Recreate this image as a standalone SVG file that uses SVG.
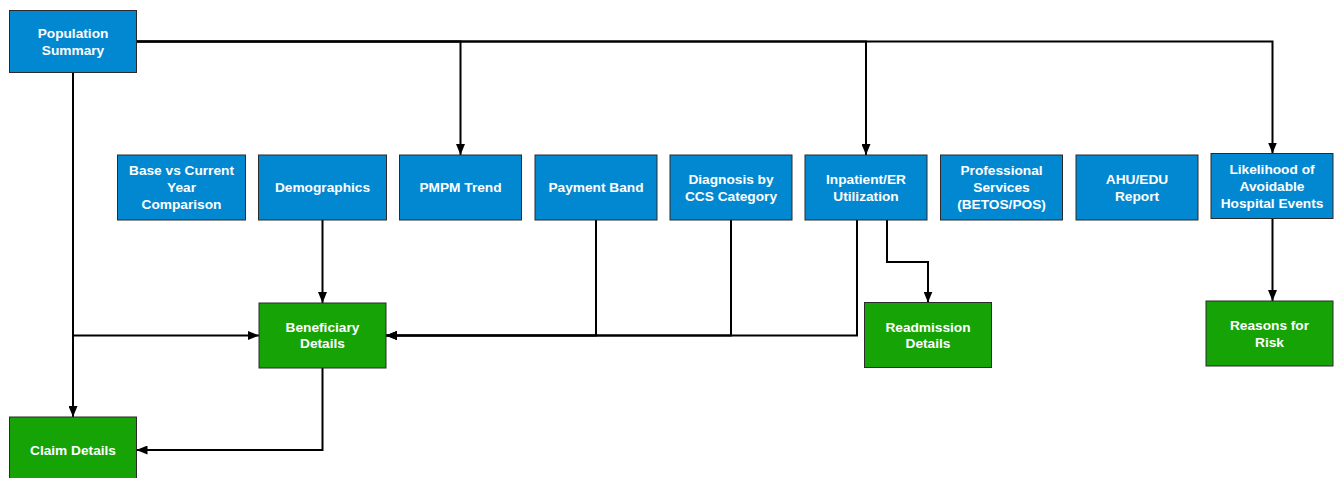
<svg xmlns="http://www.w3.org/2000/svg" width="1334" height="478" viewBox="0 0 1334 478">
<defs>
<style>
.b{fill:#0288D1;stroke:#2b2b2b;stroke-width:1}
.g{fill:#16A306;stroke:#2b2b2b;stroke-width:1}
.t{fill:#fff;font-family:"Liberation Sans",Arial,sans-serif;font-weight:bold;font-size:13.7px;text-anchor:middle}
.c{fill:none;stroke:#000;stroke-width:2;marker-end:url(#ah)}
</style>
<marker id="ah" markerUnits="userSpaceOnUse" markerWidth="11" markerHeight="9" refX="11" refY="4.5" orient="auto">
<path d="M0,0 L11,4.5 L0,9 z" fill="#000"/>
</marker>
</defs>
<rect width="1334" height="478" fill="#fff"/>
<g id="connectors">
<path class="c" d="M137,41.5 H460.5 V155"/>
<path class="c" d="M137,41.5 H866 V155"/>
<path class="c" d="M137,41.5 H1272.5 V153.5"/>
<path class="c" d="M73,72.5 V417"/>
<path class="c" d="M73,72.5 V335.5 H259"/>
<path class="c" d="M322.5,220 V303"/>
<path class="c" d="M596,220 V335.5 H386"/>
<path class="c" d="M731,220 V335.5 H386"/>
<path class="c" d="M857,220 V335.5 H386"/>
<path class="c" d="M887,220 V262 H928 V302.5"/>
<path class="c" d="M1272.5,218.5 V301"/>
<path class="c" d="M322.5,368 V450 H136.5"/>
</g>
<g id="population-summary"><rect class="b" x="9.5" y="10.5" width="127" height="62"/><text class="t" x="73" y="38.4">Population</text><text class="t" x="73" y="55.4">Summary</text></g>
<g id="base-vs-current"><rect class="b" x="117.5" y="155" width="128" height="65"/><text class="t" x="181.5" y="175.4">Base vs Current</text><text class="t" x="181.5" y="192.4">Year</text><text class="t" x="181.5" y="209.4">Comparison</text></g>
<g id="demographics"><rect class="b" x="258.5" y="155" width="128" height="65"/><text class="t" x="322.5" y="192.4">Demographics</text></g>
<g id="pmpm-trend"><rect class="b" x="399.5" y="155" width="122" height="65"/><text class="t" x="460.5" y="192.4">PMPM Trend</text></g>
<g id="payment-band"><rect class="b" x="535" y="155" width="122" height="65"/><text class="t" x="596" y="192.4">Payment Band</text></g>
<g id="diagnosis"><rect class="b" x="670" y="155" width="122" height="65"/><text class="t" x="731" y="183.9">Diagnosis by</text><text class="t" x="731" y="200.9">CCS Category</text></g>
<g id="inpatient"><rect class="b" x="805" y="155" width="122" height="65"/><text class="t" x="866" y="183.9">Inpatient/ER</text><text class="t" x="866" y="200.9">Utilization</text></g>
<g id="professional"><rect class="b" x="940.5" y="155" width="122" height="65"/><text class="t" x="1001.5" y="175.4">Professional</text><text class="t" x="1001.5" y="192.4">Services</text><text class="t" x="1001.5" y="209.4">(BETOS/POS)</text></g>
<g id="ahu-edu"><rect class="b" x="1076" y="155" width="122" height="65"/><text class="t" x="1137" y="183.9">AHU/EDU</text><text class="t" x="1137" y="200.9">Report</text></g>
<g id="likelihood"><rect class="b" x="1211" y="153.5" width="122" height="65"/><text class="t" x="1272" y="173.9">Likelihood of</text><text class="t" x="1272" y="190.9">Avoidable</text><text class="t" x="1272" y="207.9">Hospital Events</text></g>
<g id="beneficiary-details"><rect class="g" x="259" y="303" width="127" height="65"/><text class="t" x="322.5" y="331.9">Beneficiary</text><text class="t" x="322.5" y="348.4">Details</text></g>
<g id="claim-details"><rect class="g" x="9.5" y="417" width="127" height="65"/><text class="t" x="73" y="454.9">Claim Details</text></g>
<g id="readmission-details"><rect class="g" x="864.5" y="302.5" width="127" height="65"/><text class="t" x="928" y="331.7">Readmission</text><text class="t" x="928" y="348.4">Details</text></g>
<g id="reasons-for-risk"><rect class="g" x="1206" y="301" width="127" height="65"/><text class="t" x="1269.5" y="329.9">Reasons for</text><text class="t" x="1269.5" y="346.7">Risk</text></g>
</svg>
